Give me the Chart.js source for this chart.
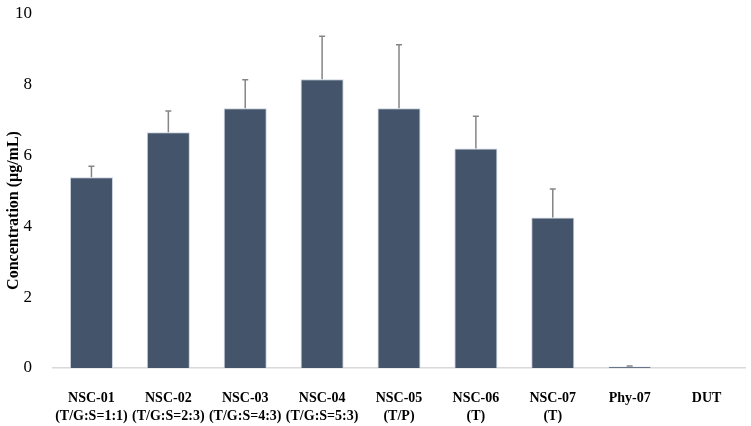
<!DOCTYPE html>
<html>
<head>
<meta charset="utf-8">
<script src="https://cdn.jsdelivr.net/npm/chart.js@4"></script>
<style>
  html, body { margin: 0; padding: 0; background: #fff; }
  #wrap { width: 751px; height: 426px; }
</style>
</head>
<body>
<div id="wrap"><canvas id="chart" width="751" height="426"></canvas></div>
<script>
const categories = [
  ['NSC-01', '(T/G:S=1:1)'],
  ['NSC-02', '(T/G:S=2:3)'],
  ['NSC-03', '(T/G:S=4:3)'],
  ['NSC-04', '(T/G:S=5:3)'],
  ['NSC-05', '(T/P)'],
  ['NSC-06', '(T)'],
  ['NSC-07', '(T)'],
  'Phy-07',
  'DUT'
]
const concentration = [5.39, 6.66, 7.34, 8.16, 7.34, 6.20, 4.25, 0.04, 0]
const errors = [0.31, 0.60, 0.80, 1.21, 1.79, 0.91, 0.81, 0.02, 0]
const yTicks = [0, 2, 4, 6, 8, 10]
const yTitle = 'Concentration (μg/mL)'

const errorBars = {
  id: 'errorBars',
  afterDatasetsDraw (chart) {
    const { ctx, scales } = chart
    const meta = chart.getDatasetMeta(0)
    ctx.save()
    ctx.strokeStyle = '#858585'
    ctx.lineWidth = 1.5
    meta.data.forEach((bar, i) => {
      if (!errors[i]) return
      const yTop = scales.y.getPixelForValue(concentration[i] + errors[i])
      const yBase = scales.y.getPixelForValue(concentration[i])
      ctx.beginPath()
      ctx.moveTo(bar.x, yBase)
      ctx.lineTo(bar.x, yTop)
      ctx.moveTo(bar.x - 3, yTop)
      ctx.lineTo(bar.x + 3, yTop)
      ctx.stroke()
    })
    ctx.restore()
  }
}

// the y title sits a little below the middle of the axis in the original
const sideTitle = {
  id: 'sideTitle',
  afterDraw (chart) {
    const { ctx, scales } = chart
    const mid = scales.y.getPixelForValue(4.45)
    ctx.save()
    ctx.translate(14, mid)
    ctx.rotate(-Math.PI / 2)
    ctx.fillStyle = '#000'
    ctx.font = 'bold 16px "Liberation Serif"'
    ctx.textAlign = 'center'
    ctx.textBaseline = 'middle'
    ctx.fillText(yTitle, 0, 0)
    ctx.restore()
  }
}

new Chart(document.getElementById('chart').getContext('2d'), {
  type: 'bar',
  data: {
    labels: categories,
    datasets: [{
      data: concentration,
      backgroundColor: '#44546a',
      borderColor: '#c9d3e0',
      borderWidth: { left: 1, right: 1, top: 1, bottom: 0 },
      categoryPercentage: 0.56,
      barPercentage: 1
    }]
  },
  options: {
    responsive: false,
    animation: false,
    layout: { padding: { top: 0, right: 6, left: 0, bottom: 0 } },
    plugins: {
      legend: { display: false },
      tooltip: { enabled: false }
    },
    scales: {
      x: {
        afterFit (axis) {
          axis.height = 58
          axis.paddingLeft = 0
          axis.paddingRight = 0
        },
        grid: { display: false },
        border: { display: true, color: '#d9d9d9', width: 1.5 },
        ticks: {
          color: '#000',
          padding: 13,
          maxRotation: 0,
          autoSkip: false,
          font: { family: 'Liberation Serif', size: 14, weight: 'bold', lineHeight: 1.3 }
        }
      },
      y: {
        min: 0,
        max: 10,
        afterBuildTicks (axis) {
          axis.ticks = yTicks.map(v => ({ value: v }))
        },
        afterFit (axis) {
          axis.width = 53
          axis.paddingTop = 14
          axis.paddingBottom = 0
        },
        grid: { display: false },
        border: { display: false },
        ticks: {
          color: '#000',
          padding: 13,
          font: { family: 'Liberation Serif', size: 17 }
        }
      }
    }
  },
  plugins: [errorBars, sideTitle]
})
</script>
</body>
</html>
